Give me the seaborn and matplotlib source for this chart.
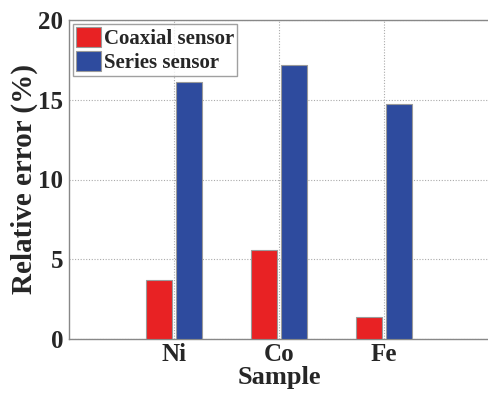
import matplotlib
matplotlib.use("Agg")
import matplotlib.pyplot as plt
import seaborn as sns
import pandas as pd

samples = ["Ni", "Co", "Fe"]
coaxial = [3.7, 5.55, 1.4]
series = [16.1, 17.2, 14.75]
sensor_names = ["Coaxial sensor", "Series sensor"]
y_ticks = [0, 5, 10, 15, 20]

df = pd.DataFrame({
    "Sample": samples * 2,
    "Error": coaxial + series,
    "Sensor": [sensor_names[0]] * 3 + [sensor_names[1]] * 3,
})

sns.set_style("white")
plt.rcParams["font.family"] = ["Liberation Serif", "DejaVu Serif"]
plt.rcParams["font.weight"] = "bold"

fig = plt.figure(figsize=(4.88, 3.94), dpi=100)
ax = fig.add_axes([69 / 488, 55 / 394, 420 / 488, 319 / 394])

sns.barplot(data=df, x="Sample", y="Error", hue="Sensor", order=samples,
            hue_order=sensor_names, palette=["#E82224", "#2E4B9E"],
            width=0.57, gap=0.15, edgecolor="#9a9a9a", linewidth=0.8,
            saturation=1, ax=ax, zorder=3)

ax.set_xlim(-1, 3)
ax.set_ylim(0, 20)
ax.set_yticks(y_ticks)
ax.grid(True, linestyle=(0, (1, 1.5)), color="#aaaaaa", linewidth=0.8, zorder=0)
ax.set_axisbelow(True)
for s in ax.spines.values():
    s.set_color("#888888")
    s.set_linewidth(1.0)
ax.tick_params(axis="y", length=0, labelsize=18, pad=4)
ax.tick_params(axis="x", length=0, labelsize=18, pad=3)
for lbl in ax.get_xticklabels() + ax.get_yticklabels():
    lbl.set_fontweight("bold")

ax.set_xlabel("Sample", fontsize=19, fontweight="bold", labelpad=0)
ax.set_ylabel("Relative error (%)", fontsize=21, fontweight="bold", labelpad=0)

leg = ax.legend(loc="upper left", bbox_to_anchor=(0.0, 1.0), frameon=True,
                fancybox=False, edgecolor="#888888",
                prop={"weight": "bold", "size": 15}, handlelength=1.2,
                handleheight=1.15, handletextpad=0.15, borderpad=0.12,
                labelspacing=0.08, borderaxespad=0.2)
leg.get_frame().set_linewidth(1.0)

fig.savefig("out.png", dpi=100)
